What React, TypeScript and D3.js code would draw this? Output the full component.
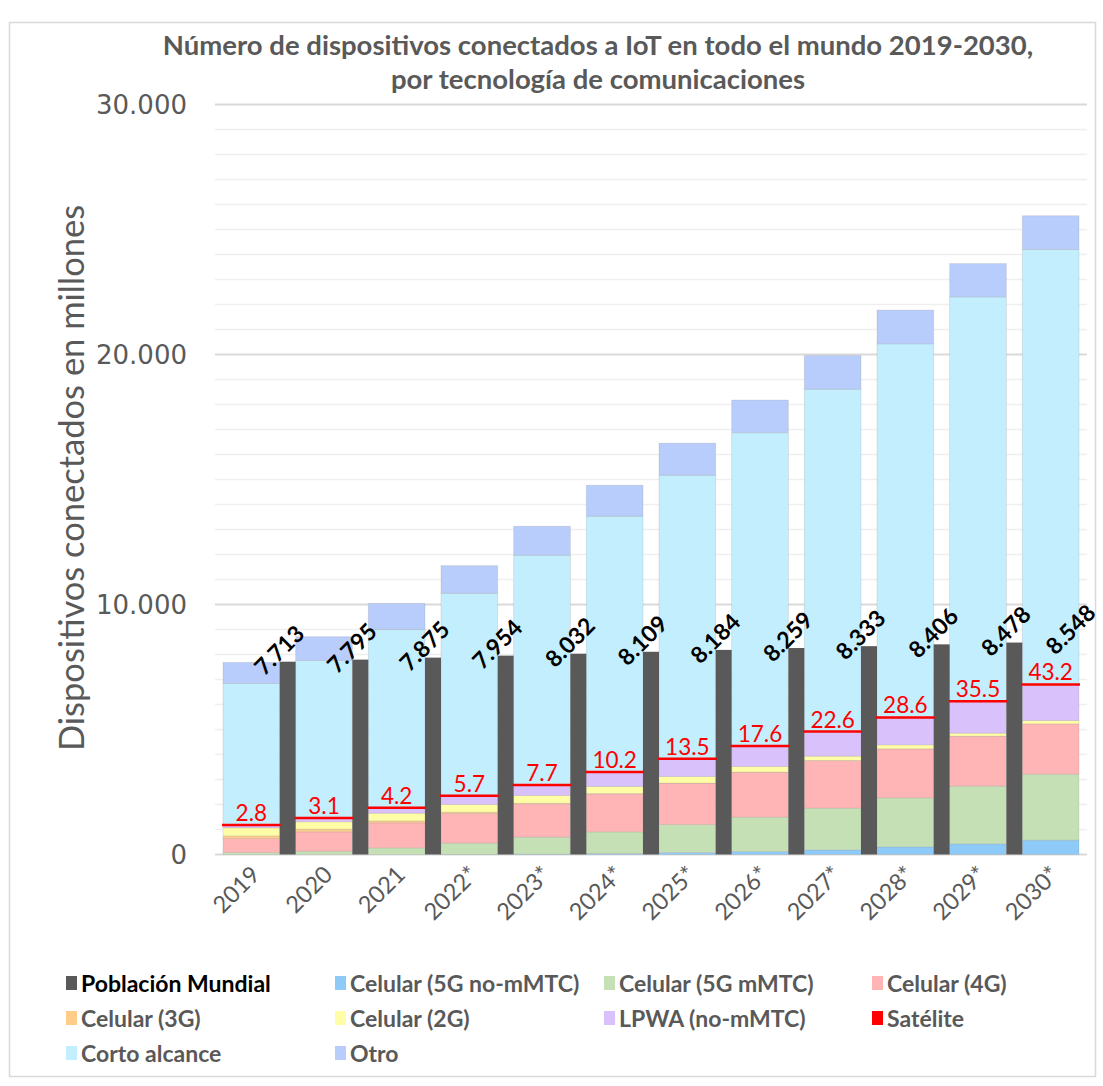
import React from "react";
import * as d3 from "d3";

// Connected IoT devices (millions) by communication technology, per year
const years = ["2019", "2020", "2021", "2022*", "2023*", "2024*", "2025*", "2026*", "2027*", "2028*", "2029*", "2030*"];
const poblacionMundial = [7713, 7795, 7875, 7954, 8032, 8109, 8184, 8259, 8333, 8406, 8478, 8548];
const celular5GNoMmtc = [0, 0, 0, 5, 15, 40, 80, 120, 187, 307, 427, 573];
const celular5GMmtc = [80, 133, 267, 450, 680, 867, 1120, 1373, 1667, 1960, 2307, 2640];
const celular4G = [560, 774, 1000, 1187, 1334, 1520, 1653, 1800, 1907, 1960, 2000, 2014];
const celular3G = [107, 107, 80, 53, 20, 10, 5, 3, 2, 1, 1, 0];
const celular2G = [320, 294, 306, 307, 313, 283, 262, 224, 171, 159, 119, 133];
const lpwaNoMmtc = [106, 146, 214, 347, 413, 573, 693, 800, 960, 1066, 1240, 1400];
const satelite = [2.8, 3.1, 4.2, 5.7, 7.7, 10.2, 13.5, 17.6, 22.6, 28.6, 35.5, 43.2];
const cortoAlcance = [5667, 6307, 7133, 8093, 9187, 10227, 11347, 12533, 13694, 14947, 16174, 17400];
const otro = [840, 947, 1040, 1107, 1160, 1240, 1280, 1307, 1346, 1347, 1333, 1347];

const yTicks = [0, 10000, 20000, 30000];

const seriesDefs = [
  { key: "g5no", label: "Celular (5G no-mMTC)", color: "#8DCAF8", values: celular5GNoMmtc },
  { key: "g5m", label: "Celular (5G mMTC)", color: "#C5E0B4", values: celular5GMmtc },
  { key: "g4", label: "Celular (4G)", color: "#FFB5B5", values: celular4G },
  { key: "g3", label: "Celular (3G)", color: "#FFCC8A", values: celular3G },
  { key: "g2", label: "Celular (2G)", color: "#FFFDA6", values: celular2G },
  { key: "lpwa", label: "LPWA (no-mMTC)", color: "#D9C2FC", values: lpwaNoMmtc },
  { key: "sat", label: "Satélite", color: "#FF0000", values: satelite },
  { key: "corto", label: "Corto alcance", color: "#C3EEFD", values: cortoAlcance },
  { key: "otro", label: "Otro", color: "#B8CDFB", values: otro },
];

const POP_COLOR = "#595959";
const TEXT_GRAY = "#595959";
const FONT = "Lato, 'Open Sans', sans-serif";

export default function App() {
  const W = 1103;
  const H = 1086;
  const plotLeft = 215;
  const plotRight = 1087;

  const y = d3.scaleLinear().domain([0, 30000]).range([854.5, 104.5]);
  const x = d3
    .scaleBand<string>()
    .domain(years)
    .range([plotLeft, plotRight])
    .paddingInner(0.22)
    .paddingOuter(0.11);
  const bw = x.bandwidth();
  const step = x.step();

  const rows = years.map((yr, i) => {
    const r: Record<string, any> = { year: yr };
    seriesDefs.forEach((s) => (r[s.key] = s.values[i]));
    return r;
  });
  const stacked = d3.stack<any>().keys(seriesDefs.map((s) => s.key))(rows);

  const gridValues = d3.range(0, 30001, 1000);

  const legendItems = [
    { label: "Población Mundial", color: POP_COLOR, textColor: "#000000" },
    ...seriesDefs.map((s) => ({ label: s.label, color: s.color, textColor: TEXT_GRAY })),
  ];
  const legendCols = [66, 335, 604, 872];
  const legendRows = [983, 1018, 1053];

  return (
    <svg
      width={W}
      height={H}
      style={{ position: "absolute", left: 0, top: 0, background: "#fff" }}
      fontFamily={FONT}
    >
      <rect x={0} y={0} width={W} height={H} fill="#fff" />
      {/* chart frame */}
      <rect x={9.5} y={22.5} width={1086} height={1054} fill="none" stroke="#D9D9D9" strokeWidth={1.5} />

      {/* title */}
      <text x={598} y={55} textAnchor="middle" fontSize={27.5} fontWeight={700} fill={TEXT_GRAY}>
        Número de dispositivos conectados a IoT en todo el mundo 2019-2030,
      </text>
      <text x={598} y={89} textAnchor="middle" fontSize={27.5} fontWeight={700} fill={TEXT_GRAY}>
        por tecnología de comunicaciones
      </text>

      {/* gridlines */}
      {gridValues.map((v) => (
        <line
          key={v}
          x1={plotLeft}
          x2={plotRight}
          y1={y(v)}
          y2={y(v)}
          stroke={v % 10000 === 0 ? "#D9D9D9" : "#EFEFEF"}
          strokeWidth={v % 10000 === 0 ? 2 : 1.5}
        />
      ))}

      {/* y axis labels */}
      {yTicks.map((v) => (
        <text
          key={v}
          x={187}
          y={y(v)}
          textAnchor="end"
          dominantBaseline="central"
          fontFamily="'DejaVu Sans', Verdana, sans-serif"
          fontSize={26}
          fill={TEXT_GRAY}
        >
          {d3.format(",")(v).replace(/,/g, ".")}
        </text>
      ))}
      <text
        transform={`translate(70, 478) rotate(-90)`}
        textAnchor="middle"
        dominantBaseline="central"
        fontSize={34.5}
        fill={TEXT_GRAY}
      >
        Dispositivos conectados en millones
      </text>

      {/* stacked device bars */}
      {stacked.map((layer, li) => {
        const def = seriesDefs[li];
        if (def.key === "sat") return null;
        return (
          <g key={def.key}>
            {layer.map((d, i) => {
              const y0 = y(d[0]);
              const y1 = y(d[1]);
              return (
                <rect
                  key={i}
                  x={x(years[i])}
                  y={y1}
                  width={bw}
                  height={Math.max(0, y0 - y1)}
                  fill={def.color}
                  stroke="rgba(140,140,140,0.25)"
                  strokeWidth={0.8}
                />
              );
            })}
          </g>
        );
      })}

      {/* world population bars, between the device bars */}
      {poblacionMundial.map((p, i) => {
        const bx = (x(years[i]) as number) + bw;
        const w = step - bw;
        if (bx + w > plotRight) return null;
        return <rect key={i} x={bx} y={y(p)} width={w} height={y(0) - y(p)} fill={POP_COLOR} />;
      })}

      {/* satellite level marks and labels */}
      {stacked
        .find((l) => l.key === "sat")!
        .map((d, i) => {
          const xs = x(years[i]) as number;
          const yy = y(d[1]);
          return (
            <g key={i}>
              <line x1={xs - 1} x2={xs + bw + 1} y1={yy} y2={yy} stroke="#FF0000" strokeWidth={2.5} />
              <text x={xs + bw / 2} y={yy - 4} textAnchor="middle" fontSize={22.5} fill="#FF0000">
                {String(satelite[i])}
              </text>
            </g>
          );
        })}

      {/* population value labels */}
      {poblacionMundial.map((p, i) => {
        const cx = Math.min((x(years[i]) as number) + bw + (step - bw) / 2 - 9, 1070);
        const cy = y(p) - 12;
        return (
          <text
            key={i}
            transform={`translate(${cx}, ${cy}) rotate(-45)`}
            textAnchor="middle"
            dominantBaseline="central"
            fontSize={23}
            fontWeight={700}
            fill="#000"
          >
            {d3.format(",")(p).replace(/,/g, ".")}
          </text>
        );
      })}

      {/* x axis labels */}
      {years.map((yr) => {
        const cx = (x(yr) as number) + bw / 2;
        return (
          <text
            key={yr}
            transform={`translate(${cx + 10}, 876) rotate(-45)`}
            textAnchor="end"
            fontSize={23.5}
            fill={TEXT_GRAY}
          >
            {yr}
          </text>
        );
      })}

      {/* legend */}
      {legendItems.map((item, i) => {
        const col = i % 4;
        const row = Math.floor(i / 4);
        const lx = legendCols[col];
        const ly = legendRows[row];
        return (
          <g key={item.label}>
            <rect x={lx} y={ly - 7} width={11} height={14} fill={item.color} />
            <text
              x={lx + 15}
              y={ly}
              dominantBaseline="central"
              fontSize={23}
              fontWeight={700}
              fill={item.textColor}
            >
              {item.label}
            </text>
          </g>
        );
      })}
    </svg>
  );
}
